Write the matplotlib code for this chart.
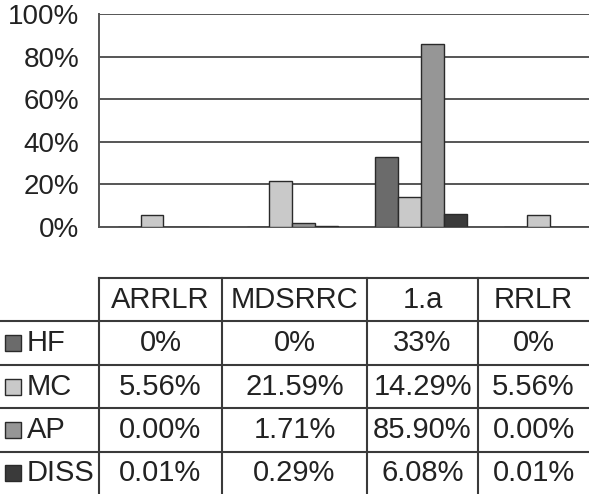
import numpy as np
import matplotlib
matplotlib.use('Agg')
import matplotlib.pyplot as plt
from matplotlib.patches import Rectangle

plt.rcParams['font.family'] = ['Liberation Sans', 'DejaVu Sans']

# data
categories = ['ARRLR', 'MDSRRC', '1.a', 'RRLR']
series = ['HF', 'MC', 'AP', 'DISS']
hf = [0, 0, 33, 0]
mc = [5.56, 21.59, 14.29, 5.56]
ap = [0.00, 1.71, 85.90, 0.00]
diss = [0.01, 0.29, 6.08, 0.01]
hf_labels = ['0%', '0%', '33%', '0%']
mc_labels = ['5.56%', '21.59%', '14.29%', '5.56%']
ap_labels = ['0.00%', '1.71%', '85.90%', '0.00%']
diss_labels = ['0.01%', '0.29%', '6.08%', '0.01%']
yticks = [0, 20, 40, 60, 80, 100]

colors = ['#6b6b6b', '#c9c9c9', '#969696', '#3a3a3a']
values = [hf, mc, ap, diss]
labels = [hf_labels, mc_labels, ap_labels, diss_labels]

W, H = 589, 494
fig = plt.figure(figsize=(W / 100, H / 100), dpi=100)

# bar chart area (pixel layout)
left, right, top, bottom = 99, 589, 14, 227
ax = fig.add_axes([left / W, 1 - bottom / H, (right - left) / W, (bottom - top) / H])
x = np.arange(len(categories))
bw = 0.178
for i, (vals, c) in enumerate(zip(values, colors)):
    ax.bar(x + (i - 1.5) * bw, vals, bw, color=c, edgecolor='#2a2a2a', linewidth=1, zorder=3)

ax.set_xlim(-0.5, 3.3)
ax.set_ylim(0, 100)
ax.set_yticks(yticks)
ax.set_yticklabels([f'{t}%' for t in yticks], fontsize=20, color='#222222')
ax.tick_params(axis='y', length=0, pad=14)
ax.tick_params(axis='x', length=0, labelbottom=False)
ax.grid(axis='y', color='#555555', linewidth=1.4, zorder=0)
for s in ['top', 'right']:
    ax.spines[s].set_visible(False)
ax.spines['left'].set_color('#555555')
ax.spines['left'].set_linewidth(1.4)
ax.spines['bottom'].set_color('#555555')
ax.spines['bottom'].set_linewidth(1.4)

# data table below, drawn in pixel coords
tx = fig.add_axes([0, 0, 1, 1])
tx.set_xlim(0, W)
tx.set_ylim(H, 0)
tx.axis('off')

cols = [0, 99, 222, 367, 478, 589]
rows = [278, 321, 365, 408, 452, 494]
lc = '#3a3a3a'
lw = 1.5

# horizontal lines
tx.plot([cols[1], cols[-1]], [rows[0], rows[0]], color=lc, lw=lw)
for r in rows[1:-1]:
    tx.plot([cols[0], cols[-1]], [r, r], color=lc, lw=lw)
# vertical lines
tx.plot([cols[1], cols[1]], [rows[0], rows[-1]], color=lc, lw=lw)
for c in cols[2:-1]:
    tx.plot([c, c], [rows[0], rows[-1]], color=lc, lw=lw)

fs = 21
for j, cat in enumerate(categories):
    cx = (cols[j + 1] + cols[j + 2]) / 2
    cy = (rows[0] + rows[1]) / 2
    tx.text(cx, cy, cat, ha='center', va='center', fontsize=fs, color='#222222')

for i, name in enumerate(series):
    cy = (rows[i + 1] + rows[i + 2]) / 2
    tx.add_patch(Rectangle((5, cy - 8), 16, 16, facecolor=colors[i],
                           edgecolor='#2a2a2a', linewidth=1))
    tx.text(27, cy, name, ha='left', va='center', fontsize=fs, color='#222222')
    for j in range(len(categories)):
        cx = (cols[j + 1] + cols[j + 2]) / 2
        tx.text(cx, cy, labels[i][j], ha='center', va='center', fontsize=fs, color='#222222')

fig.savefig('out.png', dpi=100)
